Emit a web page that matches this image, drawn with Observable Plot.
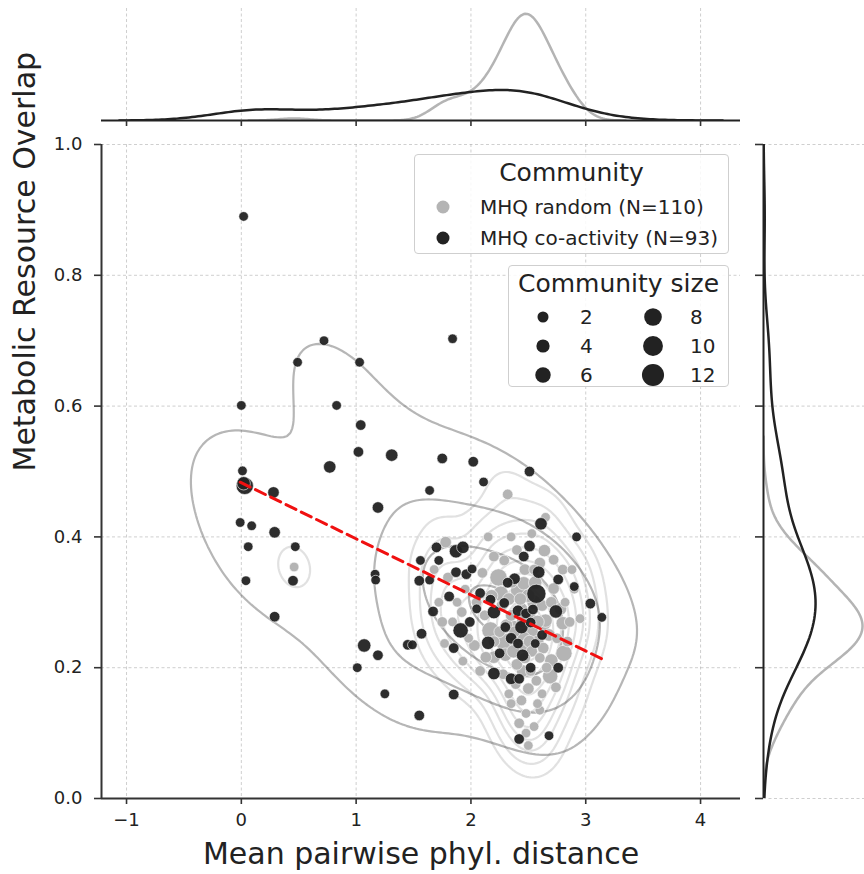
<!DOCTYPE html>
<html><head><meta charset="utf-8">
<script src="https://cdn.jsdelivr.net/npm/d3@7"></script>
<script src="https://cdn.jsdelivr.net/npm/@observablehq/plot@0.6"></script>
<style>
body{margin:0;background:#fff;}
#fig{position:relative;width:864px;height:874px;overflow:hidden;font-family:'DejaVu Sans',sans-serif;color:#222;background:#fff;}
.box{position:absolute;background:rgba(255,255,255,0.85);border:1px solid #cfcfcf;border-radius:4px;box-sizing:border-box;}
.t{position:absolute;white-space:nowrap;font-family:'DejaVu Sans',sans-serif;color:#222;}
</style></head><body><div id="fig"></div><script>
// ---------------- data ----------------
const xTicks = [-1, 0, 1, 2, 3, 4];
const yTicks = [0, 0.2, 0.4, 0.6, 0.8, 1.0];
const communityLabels = ["MHQ random (N=110)", "MHQ co-activity (N=93)"];
const sizeLegendValues = [2, 4, 6, 8, 10, 12];
const xLabel = "Mean pairwise phyl. distance";
const yLabel = "Metabolic Resource Overlap";

// MHQ co-activity (black)
const coX = [0.02,0.72,1.84,0.49,1.03,0.00,0.83,1.04,1.02,1.31,
1.75,2.02,0.77,0.01,0.03,0.28,2.11,1.64,1.19,-0.01,
0.09,0.29,0.06,0.47,0.04,0.45,0.29,1.165,1.17,1.56,
1.55,1.64,1.70,1.72,1.87,1.93,1.87,1.96,2.01,1.81,
2.08,1.67,1.91,1.99,1.57,1.45,1.49,1.85,1.07,1.19,
1.01,1.25,1.85,1.55,2.20,2.15,2.20,2.17,2.29,2.38,
2.59,2.76,2.90,2.57,2.41,2.48,2.54,2.74,3.04,3.14,
2.30,2.44,2.52,2.41,2.56,2.45,2.52,2.76,2.35,2.42,
2.68,2.42,2.51,2.61,2.92,2.51,2.46,0.02,2.32,2.62,
2.25,2.35,2.05];
const coY = [0.89,0.700,0.703,0.667,0.667,0.601,0.601,0.571,0.530,0.525,
0.520,0.515,0.507,0.501,0.478,0.468,0.484,0.471,0.445,0.422,
0.417,0.407,0.385,0.385,0.333,0.333,0.278,0.343,0.334,0.364,
0.333,0.334,0.384,0.364,0.378,0.384,0.346,0.343,0.351,0.309,
0.314,0.286,0.257,0.270,0.252,0.235,0.235,0.230,0.234,0.219,
0.200,0.160,0.159,0.127,0.191,0.238,0.285,0.304,0.299,0.336,
0.346,0.335,0.324,0.313,0.287,0.283,0.289,0.286,0.298,0.277,
0.262,0.262,0.269,0.237,0.237,0.219,0.200,0.200,0.183,0.183,
0.096,0.091,0.500,0.420,0.400,0.386,0.370,0.482,0.330,0.250,
0.222,0.245,0.290];
const coSize = [2,2,2,2,2,2,2,3,3,5,
3,3,5,2,10,4,2,2,4,2,
2,4,2,2,2,3,3,2,2,2,
3,2,3,2,6,5,3,3,2,3,
3,3,8,3,3,3,2,3,6,3,
2,2,3,3,5,6,6,3,3,4,
5,3,2,12,4,3,3,6,3,2,
3,6,3,3,2,5,3,3,4,3,
2,3,3,5,2,4,3,6,3,3,
3,4,2];

// MHQ random (gray)
const rndX = [0.46,1.78,2.32,2.64,2.29,2.24,2.42,2.63,2.80,2.17,
2.29,2.81,1.77,2.03,2.13,2.69,2.50,2.35,2.50,2.72,
1.80,2.26,2.46,2.46,2.70,2.20,2.65,
2.38,2.52,2.44,2.55,2.35,2.48,2.58,2.40,2.60,2.33,
2.47,2.56,2.62,2.68,2.30,2.25,2.36,2.50,2.43,2.53,
2.45,2.57,2.39,2.62,2.48,2.55,2.42,2.60,2.28,2.20,
2.12,2.18,2.05,2.10,1.95,1.92,1.98,1.88,1.84,1.72,
1.68,1.75,1.93,2.08,2.70,2.75,2.78,2.84,2.82,2.86,
2.90,2.95,2.88,2.80,2.72,2.60,2.40,2.53,2.35,2.20,
2.15,2.65,2.45,2.50,2.40,2.58,2.31,2.47,2.52,2.37,
2.63,2.43,2.27,2.55,2.66,2.74,2.33,2.44,2.58,2.48,
2.38,2.51,2.46];
const rndY = [0.354,0.392,0.465,0.379,0.364,0.338,0.318,0.269,0.268,0.257,
0.239,0.222,0.237,0.234,0.216,0.187,0.168,0.145,0.081,0.321,
0.338,0.313,0.329,0.245,0.211,0.216,0.272,
0.262,0.255,0.290,0.300,0.280,0.232,0.240,0.205,0.215,0.305,
0.350,0.330,0.295,0.250,0.220,0.255,0.330,0.275,0.260,0.225,
0.195,0.180,0.175,0.160,0.130,0.110,0.115,0.135,0.190,0.240,
0.280,0.310,0.300,0.345,0.320,0.285,0.245,0.300,0.270,0.300,
0.350,0.270,0.210,0.195,0.300,0.245,0.290,0.240,0.300,0.270,
0.320,0.275,0.350,0.350,0.365,0.360,0.380,0.405,0.400,0.370,
0.400,0.430,0.270,0.310,0.240,0.270,0.265,0.215,0.195,0.225,
0.230,0.305,0.295,0.350,0.200,0.170,0.160,0.150,0.145,0.100,
0.255,0.240,0.280];
const rndSize = [2,4,3,5,3,10,10,9,6,10,
10,9,2,4,4,8,4,2,2,4,
3,8,6,6,6,5,6,
6,8,5,7,4,6,5,4,3,5,
4,6,4,5,6,4,3,9,7,4,
5,3,3,2,2,2,3,2,3,4,
3,5,3,3,2,3,2,2,2,2,
2,3,2,3,4,3,5,3,2,3,
2,2,2,3,3,4,3,2,2,3,
2,2,5,6,8,6,5,4,3,6,
4,5,4,3,3,3,2,3,2,2,
4,5,4];

// ---------------- derived tables ----------------
const coRows = coX.map((x, i) => ({x, y: coY[i], size: coSize[i]}));
const rndRows = rndX.map((x, i) => ({x, y: rndY[i], size: rndSize[i]}));
const allRows = [...rndRows, ...coRows];
const NT = coX.length + rndX.length;

function sd(a){const m=d3.mean(a);return Math.sqrt(d3.sum(a,v=>(v-m)**2)/(a.length-1));}
function kde1(vals, frac, group){
  const n=vals.length, bw=Math.pow(n,-0.2)*sd(vals);
  const lo=d3.min(vals)-3*bw, hi=d3.max(vals)+3*bw, G=200, out=[];
  const c=frac/(n*bw*Math.sqrt(2*Math.PI));
  for(let i=0;i<G;i++){const t=lo+(hi-lo)*i/(G-1);let s=0;for(const v of vals){const z=(t-v)/bw;s+=Math.exp(-0.5*z*z);}out.push({t,d:c*s,group});}
  return out;
}
function kde2(xs, ys, frac){
  const n=xs.length, f=Math.pow(n,-1/6), mx=d3.mean(xs), my=d3.mean(ys);
  let sxx=0,syy=0,sxy=0;
  for(let i=0;i<n;i++){const a=xs[i]-mx,b=ys[i]-my;sxx+=a*a;syy+=b*b;sxy+=a*b;}
  const cxx=sxx/(n-1)*f*f, cyy=syy/(n-1)*f*f, cxy=sxy/(n-1)*f*f;
  const det=cxx*cyy-cxy*cxy, ixx=cyy/det, iyy=cxx/det, ixy=-cxy/det;
  const bwx=Math.sqrt(cxx), bwy=Math.sqrt(cyy), G=200;
  const x0=d3.min(xs)-3*bwx, x1=d3.max(xs)+3*bwx, y0=d3.min(ys)-3*bwy, y1=d3.max(ys)+3*bwy;
  const norm=frac/(n*2*Math.PI*Math.sqrt(det));
  const values=new Float64Array(G*G);
  for(let j=0;j<G;j++){const py=y0+(y1-y0)*j/(G-1);
    for(let i=0;i<G;i++){const px=x0+(x1-x0)*i/(G-1);let s=0;
      for(let k=0;k<n;k++){const a=px-xs[k],b=py-ys[k];s+=Math.exp(-0.5*(ixx*a*a+2*ixy*a*b+iyy*b*b));}
      values[j*G+i]=norm*s;}}
  return {values,G,x0,x1,y0,y1};
}
const kCo = kde2(coX, coY, coX.length/NT);
const kRnd = kde2(rndX, rndY, rndX.length/NT);
// common iso-proportion levels
const allVals = Float64Array.from([...kCo.values, ...kRnd.values]).sort().reverse();
const total = d3.sum(allVals);
const cum = new Float64Array(allVals.length);
{let s=0;for(let i=0;i<allVals.length;i++){s+=allVals[i];cum[i]=s/total;}}
const isoprop = d3.range(10).map(i => 0.05 + i*(0.95/9));
const levels = isoprop.map(p => {const target=1-p;let idx=d3.bisectLeft(cum,target);idx=Math.min(idx,allVals.length-1);return allVals[idx];}).filter(v => v < allVals[0]);
function contourRows(k, name){
  const {values,G,x0,x1,y0,y1}=k, rows=[]; let ring=0;
  const gen=d3.contours().size([G,G]).thresholds(levels);
  for(const geom of gen(values)) for(const poly of geom.coordinates) for(const r of poly){
    ring++; for(const [gx,gy] of r) rows.push({x:x0+(gx-0.5)*(x1-x0)/(G-1), y:y0+(gy-0.5)*(y1-y0)/(G-1), ring:name+ring});
  }
  return rows;
}
const contCo = contourRows(kCo, "co");
const contRnd = contourRows(kRnd, "rnd");

const topCo = kde1(coX, coX.length/NT, "co"), topRnd = kde1(rndX, rndX.length/NT, "rnd");
const rightCo = kde1(coY, coY.length/NT, "co"), rightRnd = kde1(rndY, rndY.length/NT, "rnd");
const maxTop = d3.max([...topCo, ...topRnd], d => d.d);
const maxRight = d3.max([...rightCo, ...rightRnd], d => d.d);

// ---------------- plots ----------------
const W = 864, H = 874;
const xDomain = [-1.218, 4.348];
const GRAY = "#b4b4b4", BLACK = "#222222";
const gridStyle = {stroke: "#999", strokeOpacity: 0.6, strokeDasharray: "3,2.5", strokeWidth: 0.8};
const baseStyle = "position:absolute;left:0;top:0;background:transparent;overflow:visible;font-family:'DejaVu Sans',sans-serif;color:#222;";
const fmtX = d => d < 0 ? "\u2212" + Math.abs(d) : String(d);

const mainPlot = Plot.plot({
  width: W, height: H,
  marginLeft: 101, marginRight: 124, marginTop: 144, marginBottom: 76,
  x: {domain: xDomain},
  y: {domain: [0, 1]},
  r: {type: "linear", domain: [2, 12], range: [4.8, 9.6]},
  style: baseStyle,
  marks: [
    Plot.gridX({ticks: xTicks, ...gridStyle}),
    Plot.gridY({ticks: yTicks, ...gridStyle}),
    Plot.line(contRnd, {x: "x", y: "y", z: "ring", stroke: GRAY, strokeOpacity: 0.4, strokeWidth: 2.2, clip: true}),
    Plot.line(contCo, {x: "x", y: "y", z: "ring", stroke: BLACK, strokeOpacity: 0.33, strokeWidth: 2.2, clip: true}),
    Plot.dot(rndRows, {x: "x", y: "y", r: "size", fill: GRAY, stroke: "white", strokeWidth: 0.6}),
    Plot.dot(coRows, {x: "x", y: "y", r: "size", fill: BLACK, fillOpacity: 0.95, stroke: "white", strokeWidth: 0.6}),
    Plot.linearRegressionY(allRows, {x: "x", y: "y", stroke: "#f01010", ci: 0, strokeWidth: 3, strokeDasharray: "11,6"}),
    Plot.ruleX([xDomain[0]], {stroke: "#333", strokeWidth: 2}),
    Plot.ruleY([0], {stroke: "#333", strokeWidth: 2}),
    Plot.axisX({ticks: xTicks, tickSize: 6, tickPadding: 9, tickFormat: fmtX, fontSize: 18, label: null, stroke: "#333", strokeWidth: 1.6}),
    Plot.axisY({ticks: yTicks, tickSize: 7, tickPadding: 12, tickFormat: d3.format(".1f"), fontSize: 18, label: null, stroke: "#333", strokeWidth: 1.6}),
    Plot.text([xLabel], {text: d => d, frameAnchor: "bottom", dy: 65, lineAnchor: "bottom", fontSize: 30, fill: "#222"}),
    Plot.text([yLabel], {text: d => d, frameAnchor: "left", dx: -67, rotate: -90, lineAnchor: "bottom", fontSize: 30, fill: "#222"})
  ]
});

const topPlot = Plot.plot({
  width: W, height: 132,
  marginLeft: 101, marginRight: 124, marginTop: 8, marginBottom: 12,
  x: {domain: xDomain},
  y: {domain: [0, maxTop * 1.05], axis: null},
  style: baseStyle,
  marks: [
    Plot.gridX({ticks: xTicks, ...gridStyle}),
    Plot.line(topRnd, {x: "t", y: "d", stroke: GRAY, strokeWidth: 2.5, clip: true}),
    Plot.line(topCo, {x: "t", y: "d", stroke: BLACK, strokeWidth: 2.5, clip: true}),
    Plot.ruleY([0], {stroke: "#222", strokeWidth: 2}),
    Plot.axisX({ticks: xTicks, tickSize: 6, tickFormat: () => "", label: null, stroke: "#333", strokeWidth: 1.6})
  ]
});

const rightPlot = Plot.plot({
  width: W, height: H,
  marginLeft: 763, marginRight: 0, marginTop: 144, marginBottom: 76,
  x: {domain: [0, maxRight * 1.02], axis: null},
  y: {domain: [0, 1]},
  style: baseStyle,
  marks: [
    Plot.gridY({ticks: yTicks, ...gridStyle}),
    Plot.line(rightRnd, {x: "d", y: "t", stroke: GRAY, strokeWidth: 2.5, clip: true}),
    Plot.line(rightCo, {x: "d", y: "t", stroke: BLACK, strokeWidth: 2.5, clip: true}),
    Plot.ruleX([0], {stroke: "#222", strokeWidth: 2}),
    Plot.axisY({ticks: yTicks, tickSize: 8, tickFormat: () => "", label: null, stroke: "#333", strokeWidth: 1.6})
  ]
});

const fig = document.getElementById("fig");
fig.appendChild(topPlot);
fig.appendChild(rightPlot);
fig.appendChild(mainPlot);

// ---------------- legends ----------------
const rScale = mainPlot.scale("r");
function addBox(l, t, w, h){const d=document.createElement("div");d.className="box";Object.assign(d.style,{left:l+"px",top:t+"px",width:w+"px",height:h+"px"});fig.appendChild(d);}
function addText(txt, l, cy, size, center){const d=document.createElement("div");d.className="t";d.textContent=txt;
  Object.assign(d.style,{top:(cy-size*0.6)+"px",fontSize:size+"px",lineHeight:(size*1.2)+"px"});
  d.style.left=l+"px"; if(center) d.style.transform="translateX(-50%)"; fig.appendChild(d);}
addBox(414, 154, 315, 100);
addBox(508, 265, 221, 122);
const legSvg = d3.create("svg").attr("width", W).attr("height", H).style("position","absolute").style("left","0").style("top","0").style("pointer-events","none");
const commColors = [GRAY, BLACK];
communityLabels.forEach((lab, i) => {
  legSvg.append("circle").attr("cx", 443).attr("cy", 207 + i*31).attr("r", 6.5).attr("fill", commColors[i]);
});
sizeLegendValues.forEach((v, i) => {
  const col = Math.floor(i/3), row = i%3;
  legSvg.append("circle").attr("cx", 543 + col*110).attr("cy", 317 + row*29).attr("r", rScale.apply(v)*1.15).attr("fill", BLACK);
});
fig.appendChild(legSvg.node());
addText("Community", 571.5, 173, 25, true);
communityLabels.forEach((lab, i) => addText(lab, 480, 207 + i*31, 20, false));
addText("Community size", 618.5, 284, 25, true);
sizeLegendValues.forEach((v, i) => {
  const col = Math.floor(i/3), row = i%3;
  addText(String(v), 580 + col*110, 317 + row*29, 20, false);
});
</script></body></html>
